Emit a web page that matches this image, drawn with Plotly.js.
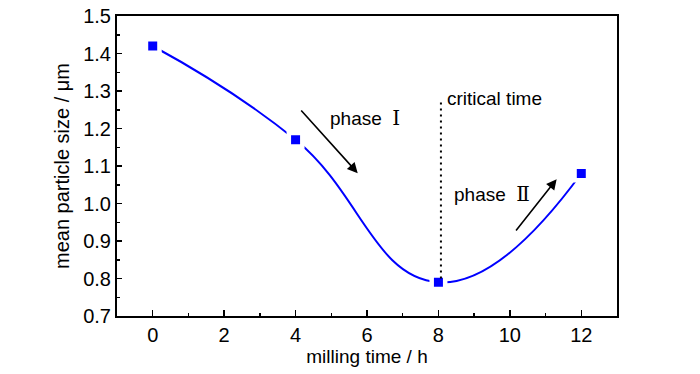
<!DOCTYPE html>
<html>
<head>
<meta charset="utf-8">
<script src="https://cdn.plot.ly/plotly-3.0.1.min.js"></script>
<style>
  html, body { margin: 0; padding: 0; background: #fff; }
  #chart { width: 700px; height: 374px; }
</style>
</head>
<body>
<div id="chart"></div>
<script>
// ---- data ----
const millingTime = [0, 4, 8, 12];
const particleSize = [1.42, 1.17, 0.79, 1.08];
const xTickVals = [0, 2, 4, 6, 8, 10, 12];
const yTickVals = [0.7, 0.8, 0.9, 1.0, 1.1, 1.2, 1.3, 1.4, 1.5];
const criticalX = 8.07;
const criticalY = [0.80, 1.27];
const phase1Arrow = { from: [4.12, 1.252], to: [5.74, 1.081] };
const phase2Arrow = { from: [10.14, 0.924], to: [11.31, 1.065] };
const labels = {
  critical: { text: 'critical time', x: 8.17, y: 1.279 },
  phase1: { text: 'phase', num: 'Ⅰ', x: 4.9, y: 1.228 },
  phase2: { text: 'phase', num: 'Ⅱ', x: 8.37, y: 1.025 }
};

const FONT = 'Liberation Sans, Arial, sans-serif';
const NUMFONT = 'DejaVu Serif';

const traces = [
  {
    x: millingTime, y: particleSize, mode: 'lines', type: 'scatter',
    line: { color: '#0000ff', width: 2, shape: 'spline', smoothing: 1.3 },
    hoverinfo: 'skip', showlegend: false
  },
  {
    x: millingTime, y: particleSize, mode: 'markers', type: 'scatter',
    marker: { symbol: 'square', size: 18, color: '#ffffff' },
    hoverinfo: 'skip', showlegend: false
  },
  {
    x: millingTime, y: particleSize, mode: 'markers', type: 'scatter',
    marker: { symbol: 'square', size: 9, color: '#0000ff' },
    hoverinfo: 'skip', showlegend: false
  }
];

function arrow(a) {
  return {
    x: a.to[0], y: a.to[1], ax: a.from[0], ay: a.from[1],
    xref: 'x', yref: 'y', axref: 'x', ayref: 'y',
    showarrow: true, arrowhead: 2, arrowsize: 1.3, arrowwidth: 1.6,
    arrowcolor: '#000000', text: ''
  };
}
function textAnn(t, html) {
  return {
    x: t.x, y: t.y, xref: 'x', yref: 'y', xanchor: 'left', yanchor: 'middle',
    showarrow: false, text: html, font: { family: FONT, size: 19, color: '#000' }
  };
}
function numSpan(n) {
  return '<span style="font-family:' + NUMFONT + ';font-size:20px">' + n + '</span>';
}

const layout = {
  width: 700, height: 374,
  margin: { l: 117, r: 83, t: 16, b: 58 },
  paper_bgcolor: '#ffffff', plot_bgcolor: '#ffffff',
  font: { family: FONT, size: 20, color: '#000' },
  xaxis: {
    range: [-1, 13], tickvals: xTickVals, ticktext: xTickVals.map(String),
    showline: true, mirror: true, linecolor: '#000', linewidth: 2,
    ticks: 'inside', ticklen: 6, tickwidth: 1.5, tickcolor: '#000',
    minor: { dtick: 1, ticks: 'inside', ticklen: 3, tickwidth: 1.5, tickcolor: '#000' },
    showgrid: false, zeroline: false,
    tickfont: { family: FONT, size: 20, color: '#000' },
    title: { text: 'milling time / h', font: { family: FONT, size: 19, color: '#000' }, standoff: 3 }
  },
  yaxis: {
    range: [0.7, 1.5], tickvals: yTickVals, ticktext: yTickVals.map(v => v.toFixed(1)),
    showline: true, mirror: true, linecolor: '#000', linewidth: 2,
    ticks: 'inside', ticklen: 5, tickwidth: 1.5, tickcolor: '#000',
    minor: { dtick: 0.05, ticks: 'inside', ticklen: 3, tickwidth: 1.5, tickcolor: '#000' },
    showgrid: false, zeroline: false,
    tickfont: { family: FONT, size: 20, color: '#000' },
    title: { text: 'mean particle size / μm', font: { family: FONT, size: 20, color: '#000' }, standoff: 8 }
  },
  shapes: [
    {
      type: 'line', xref: 'x', yref: 'y',
      x0: criticalX, x1: criticalX, y0: criticalY[0], y1: criticalY[1],
      line: { color: '#000', width: 2, dash: '2px,4px' }
    }
  ],
  annotations: [
    arrow(phase1Arrow),
    arrow(phase2Arrow),
    textAnn(labels.critical, labels.critical.text),
    textAnn(labels.phase1, labels.phase1.text + '  ' + numSpan(labels.phase1.num)),
    textAnn(labels.phase2, labels.phase2.text + '  ' + numSpan(labels.phase2.num))
  ]
};

Plotly.newPlot('chart', traces, layout, { staticPlot: true, displayModeBar: false });
</script>
</body>
</html>
